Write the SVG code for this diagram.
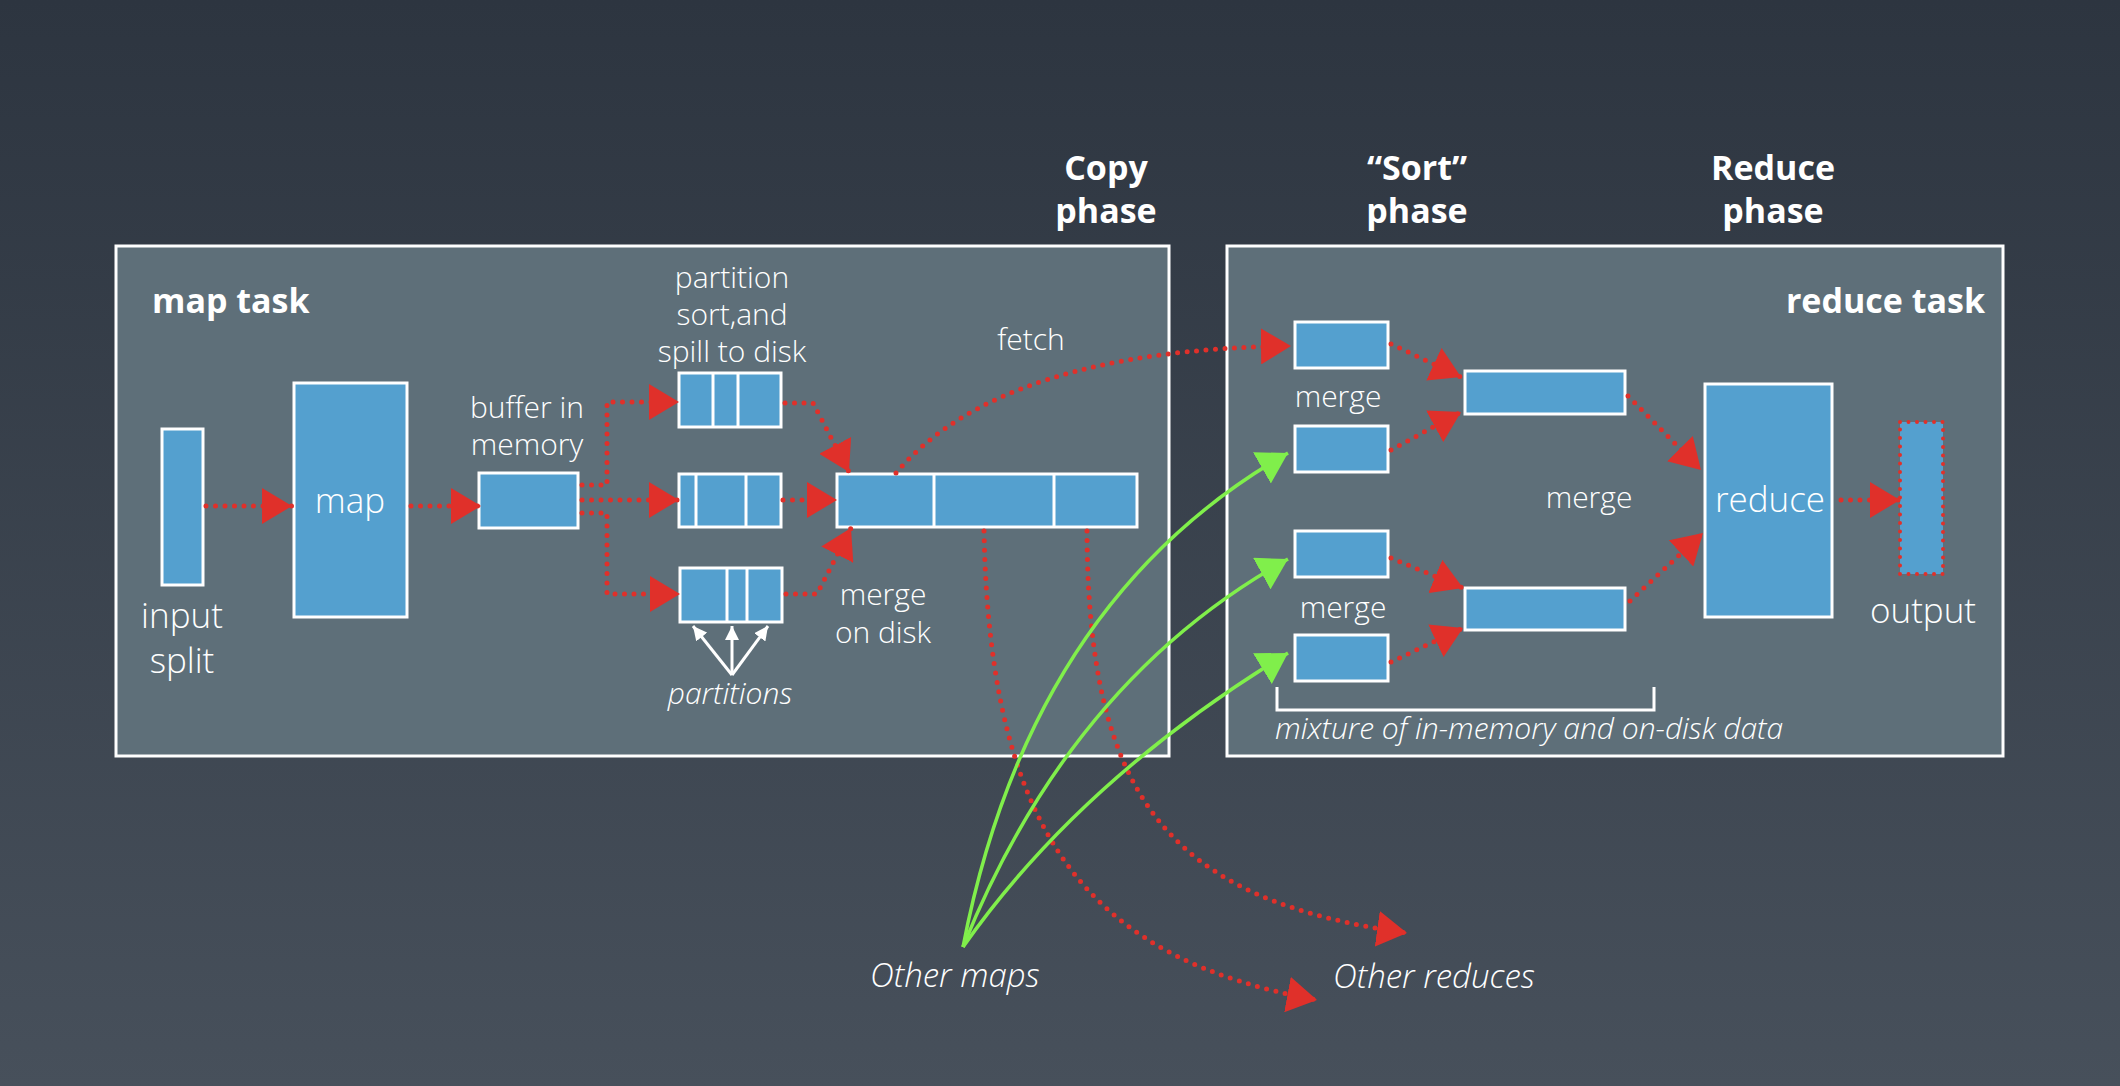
<svg xmlns="http://www.w3.org/2000/svg" width="2120" height="1086" viewBox="0 0 2120 1086">
<defs>
<linearGradient id="bg" x1="0" y1="0" x2="0" y2="1">
<stop offset="0" stop-color="#2d3540"/>
<stop offset="1" stop-color="#47505b"/>
</linearGradient>
<marker id="ar" markerUnits="userSpaceOnUse" markerWidth="30" markerHeight="36" viewBox="0 0 30 36" refX="30" refY="18" orient="auto"><path d="M0,0 L30,18 L0,36 z" fill="#e0302a"/></marker>
<marker id="ag" markerUnits="userSpaceOnUse" markerWidth="30" markerHeight="36" viewBox="0 0 30 36" refX="30" refY="18" orient="auto"><path d="M0,0 L30,18 L0,36 z" fill="#80ef4b"/></marker>
<marker id="aw" markerUnits="userSpaceOnUse" markerWidth="14" markerHeight="14" viewBox="0 0 14 14" refX="14" refY="7" orient="auto"><path d="M0,0 L14,7 L0,14 z" fill="#ffffff"/></marker>
<style>
.task{fill:#5e6f79;stroke:#ffffff;stroke-width:3}
.blk{fill:#54a0cf;stroke:#ffffff;stroke-width:3}
.div{stroke:#ffffff;stroke-width:3}
.dot{fill:none;stroke:#e0302a;stroke-width:5;stroke-dasharray:0 9.5;stroke-linecap:round;marker-end:url(#ar)}
.dotn{fill:none;stroke:#e0302a;stroke-width:5;stroke-dasharray:0 9.5;stroke-linecap:round}
.grn{fill:none;stroke:#80ef4b;stroke-width:3.5;marker-end:url(#ag)}
.wht{fill:none;stroke:#ffffff;stroke-width:3}
text{font-family:"Open Sans","Noto Sans","Liberation Sans",sans-serif;fill:#ffffff}
.h{font-weight:bold;font-size:34px;text-anchor:middle}
.hb{font-weight:bold;font-size:34px}
.l{font-weight:300;font-size:30px;text-anchor:middle}
.L{font-weight:300;font-size:35px;text-anchor:middle}
.i{font-weight:300;font-style:italic;font-size:30px}
</style>
</defs>
<rect x="0" y="0" width="2120" height="1086" fill="url(#bg)"/>

<g id="phase-labels">
<text class="h" x="1106" y="180">Copy</text>
<text class="h" x="1106" y="223">phase</text>
<text class="h" x="1417" y="180">“Sort”</text>
<text class="h" x="1417" y="223">phase</text>
<text class="h" x="1773" y="180">Reduce</text>
<text class="h" x="1773" y="223">phase</text>
</g>

<g id="map-task">
<rect class="task" x="116" y="246" width="1053" height="510"/>
<text class="hb" x="152" y="313">map task</text>
</g>
<g id="reduce-task">
<rect class="task" x="1227" y="246" width="776" height="510"/>
<text class="hb" x="1985" y="313" text-anchor="end">reduce task</text>
</g>

<g id="input-split">
<rect class="blk" x="162" y="429" width="41" height="156"/>
<text class="L" x="182" y="628">input</text>
<text class="L" x="182" y="673">split</text>
</g>
<g id="map">
<rect class="blk" x="294" y="383" width="113" height="234"/>
<text class="L" x="350" y="513">map</text>
</g>
<g id="buffer">
<rect class="blk" x="479" y="473" width="99" height="55"/>
<text class="l" x="527" y="418">buffer in</text>
<text class="l" x="527" y="455">memory</text>
</g>
<g id="spill-label">
<text class="l" x="732" y="288">partition</text>
<text class="l" x="732" y="325">sort,and</text>
<text class="l" x="732" y="362">spill to disk</text>
</g>
<g id="partition-top">
<rect class="blk" x="679" y="373" width="102" height="54"/>
<line class="div" x1="713" y1="373" x2="713" y2="427"/>
<line class="div" x1="738" y1="373" x2="738" y2="427"/>
</g>
<g id="partition-mid">
<rect class="blk" x="679" y="474" width="102" height="53"/>
<line class="div" x1="696" y1="474" x2="696" y2="527"/>
<line class="div" x1="746" y1="474" x2="746" y2="527"/>
</g>
<g id="partition-bot">
<rect class="blk" x="680" y="568" width="102" height="54"/>
<line class="div" x1="727" y1="568" x2="727" y2="622"/>
<line class="div" x1="747" y1="568" x2="747" y2="622"/>
</g>
<g id="partitions-label">
<text class="i" x="730" y="704" text-anchor="middle">partitions</text>
</g>
<g id="merged-file">
<rect class="blk" x="837" y="474" width="300" height="53"/>
<line class="div" x1="934" y1="474" x2="934" y2="527"/>
<line class="div" x1="1054" y1="474" x2="1054" y2="527"/>
<text class="l" x="883" y="605">merge</text>
<text class="l" x="883" y="643">on disk</text>
</g>
<g id="fetch-label">
<text class="l" x="1031" y="350">fetch</text>
</g>

<g id="copy-1"><rect class="blk" x="1295" y="322" width="93" height="46"/></g>
<g id="copy-2"><rect class="blk" x="1295" y="426" width="93" height="46"/></g>
<g id="copy-3"><rect class="blk" x="1295" y="531" width="93" height="46"/></g>
<g id="copy-4"><rect class="blk" x="1295" y="635" width="93" height="46"/></g>
<g id="merge-labels">
<text class="l" x="1338" y="407">merge</text>
<text class="l" x="1343" y="618">merge</text>
<text class="l" x="1589" y="508">merge</text>
</g>
<g id="merged-upper"><rect class="blk" x="1465" y="371" width="160" height="43"/></g>
<g id="merged-lower"><rect class="blk" x="1465" y="588" width="160" height="42"/></g>
<g id="reduce">
<rect class="blk" x="1705" y="384" width="127" height="233"/>
<text class="L" x="1770" y="512">reduce</text>
</g>
<g id="output">
<rect x="1900" y="422" width="43" height="152" fill="#54a0cf"/>
<rect x="1900" y="422" width="43" height="152" class="dotn" style="stroke-width:4;stroke-dasharray:0 8.5"/>
<text class="L" x="1923" y="623">output</text>
</g>
<g id="mixture">
<path class="wht" d="M1277,687 L1277,710 L1654,710 L1654,687"/>
<text class="i" x="1275" y="739">mixture of in-memory and on-disk data</text>
</g>
<g id="other-maps"><text class="i" x="870" y="987" style="font-size:33px">Other maps</text></g>
<g id="other-reduces"><text class="i" x="1333" y="988" style="font-size:33px">Other reduces</text></g>

<g id="connectors">
<path class="dot" d="M206,506 L292,506"/>
<path class="dot" d="M411,506 L481,506"/>
<path class="dot" d="M582,485 L607,485 L607,402 L679,402"/>
<path class="dot" d="M582,500 L679,500"/>
<path class="dot" d="M582,513 L607,513 L607,594 L680,594"/>
<path class="dot" d="M785,403 L813,403 L849,472"/>
<path class="dot" d="M783,500 L837,500"/>
<path class="dot" d="M786,594 L817,594 L851,528"/>
<path class="dot" d="M896,473 Q1000,350 1291,346"/>
<path class="dot" d="M984,531 C990,850 1100,960 1317,1000"/>
<path class="dot" d="M1087,531 C1088,800 1170,900 1407,933"/>
<path class="dot" d="M1391,344 L1461,377"/>
<path class="dot" d="M1391,450 L1461,412"/>
<path class="dot" d="M1628,396 L1701,470"/>
<path class="dot" d="M1391,558 L1463,588"/>
<path class="dot" d="M1391,662 L1463,628"/>
<path class="dot" d="M1630,601 L1703,533"/>
<path class="dot" d="M1841,500 L1900,500"/>
<path class="grn" d="M963,947 Q1030,600 1288,453"/>
<path class="grn" d="M963,947 Q1070,680 1288,559"/>
<path class="grn" d="M963,947 Q1080,780 1288,653"/>
<path class="wht" style="marker-end:url(#aw)" d="M732,675 L693,626"/>
<path class="wht" style="marker-end:url(#aw)" d="M732,675 L732,626"/>
<path class="wht" style="marker-end:url(#aw)" d="M732,675 L768,626"/>
</g>
</svg>
